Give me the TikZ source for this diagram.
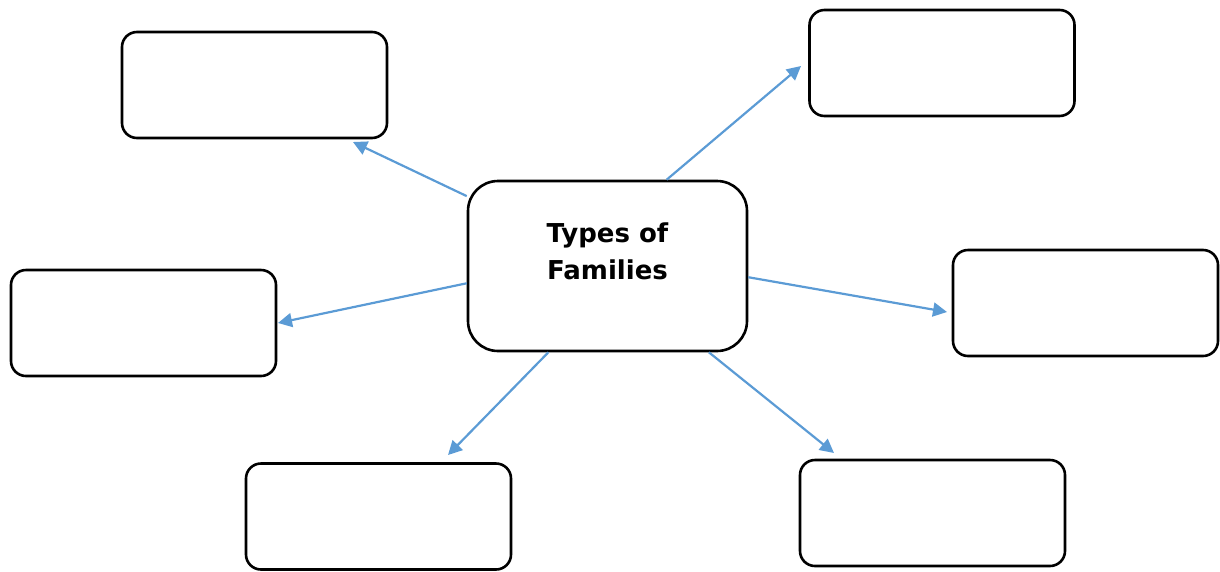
\documentclass[tikz,border=0pt]{standalone}
\usepackage{fontspec}
\usepackage{xcolor}
\setmainfont{DejaVu Sans}
\usetikzlibrary{arrows.meta}
\usetikzlibrary{calc}
\definecolor{arrowblue}{HTML}{5B9BD5}
\tikzset{
    famtype/.style={draw=black,line width=2.6pt,rounded corners=15pt,fill=white,
        minimum width=265pt,minimum height=106pt,inner sep=0pt},
    hub/.style={draw=black,line width=2.6pt,rounded corners=30pt,fill=white,
        minimum width=279pt,minimum height=170pt,inner sep=0pt},
    hubtext/.style={font=\bfseries\fontsize{26}{37}\selectfont,align=center,inner sep=0pt},
    link/.style={arrowblue,line width=2.2pt,-{Triangle[length=14pt,width=14pt]}}
}

\begin{document}
\begin{tikzpicture}[x=1pt,y=-1pt]
    \useasboundingbox (0,0) rectangle (1220,571);

    % centre box
    \node[hub] (fam) at (607.5,266) {};
    \node[hubtext] (famlbl) at (607.5,251) {Types of\\Families};

    % empty boxes around it
    \node[famtype] (tl) at (254.5,85) {};
    \node[famtype] (tr) at (942,63) {};
    \node[famtype] (ml) at (143.5,323) {};
    \node[famtype] (mr) at (1085.5,303) {};
    \node[famtype] (bl) at (378.5,516.5) {};
    \node[famtype] (br) at (932.5,513) {};

    % arrow tips, short of the boxes
    \coordinate (tltip) at (353,142);
    \coordinate (trtip) at (801,66);
    \coordinate (mltip) at (278,323);
    \coordinate (mrtip) at (947,312);
    \coordinate (bltip) at (448,455);
    \coordinate (brtip) at (834,453);

    \draw[link] ($(fam.north west)!0.095!(fam.south west)$) -- (tltip);
    \draw[link] ($(fam.north west)!0.71!(fam.north east)$) -- (trtip);
    \draw[link] ($(fam.north west)!0.6!(fam.south west)$) -- (mltip);
    \draw[link] ($(fam.north east)!0.565!(fam.south east)$) -- (mrtip);
    \draw[link] ($(fam.south west)!0.29!(fam.south east)$) -- (bltip);
    \draw[link] ($(fam.south west)!0.86!(fam.south east)$) -- (brtip);
\end{tikzpicture}
\end{document}
